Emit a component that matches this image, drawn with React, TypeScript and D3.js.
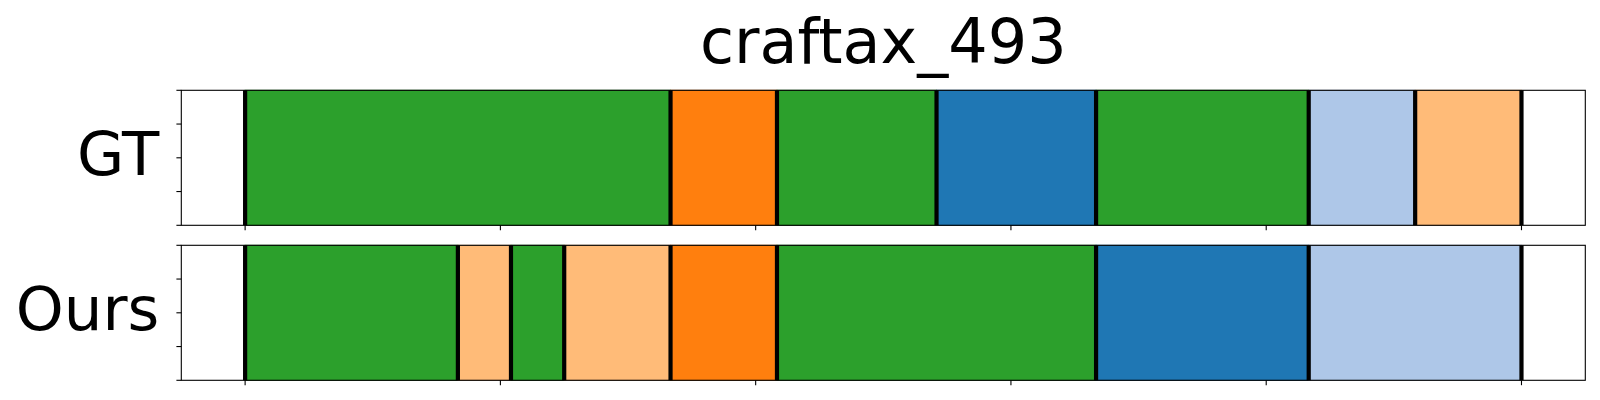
import React from "react";
import * as d3 from "d3";

const title = "craftax_493";
const rowLabels = ["GT", "Ours"];

// segment boundaries (normalized time, 0..100) and the colour class of each segment
const gtBounds = [0, 33.33, 41.67, 54.17, 66.67, 83.33, 91.67, 100];
const gtClasses = ["green", "orange", "green", "blue", "green", "lightblue", "lightorange"];

const oursBounds = [0, 16.67, 20.83, 25, 33.33, 41.67, 66.67, 83.33, 100];
const oursClasses = ["green", "lightorange", "green", "lightorange", "orange", "green", "blue", "lightblue"];

const xTicks = [0, 20, 40, 60, 80, 100];
const yTicks = [0, 0.25, 0.5, 0.75, 1];

const palette: Record<string, string> = {
  green: "#2ca02c",
  orange: "#ff7f0e",
  blue: "#1f77b4",
  lightblue: "#aec7e8",
  lightorange: "#ffbb78",
};

const W = 1600;
const H = 400;
const axLeft = 181.3;
const axRight = 1585.3;
const panels = [
  { top: 90.3, bottom: 225.3, bounds: gtBounds, classes: gtClasses, label: rowLabels[0] },
  { top: 245.3, bottom: 380.3, bounds: oursBounds, classes: oursClasses, label: rowLabels[1] },
];

export default function App() {
  const x = d3.scaleLinear().domain([-5, 105]).range([axLeft, axRight]);
  const font = "DejaVu Sans, sans-serif";
  return (
    <svg
      width={W}
      height={H}
      style={{ position: "absolute", left: 0, top: 0, background: "#fff" }}
      fontFamily={font}
    >
      <text x={(axLeft + axRight) / 2} y={62.7} textAnchor="middle" fontSize={62} fill="#000">
        {title}
      </text>
      {panels.map((p, pi) => {
        const y = d3.scaleLinear().domain([0, 1]).range([p.bottom, p.top]);
        const segs = p.classes.map((c, i) => ({ c, x0: p.bounds[i], x1: p.bounds[i + 1] }));
        return (
          <g key={pi}>
            {segs.map((s, i) => (
              <rect
                key={i}
                x={x(s.x0)}
                y={p.top}
                width={x(s.x1) - x(s.x0)}
                height={p.bottom - p.top}
                fill={palette[s.c]}
                stroke={d3.color(palette[s.c])!.darker(0.4).toString()}
                strokeWidth={1}
              />
            ))}
            {p.bounds.map((b, i) => (
              <line key={i} x1={x(b)} x2={x(b)} y1={p.top} y2={p.bottom} stroke="#000" strokeWidth={4.2} />
            ))}
            <rect
              x={axLeft}
              y={p.top}
              width={axRight - axLeft}
              height={p.bottom - p.top}
              fill="none"
              stroke="#000"
              strokeWidth={1.1}
            />
            {yTicks.map((t, i) => (
              <line key={i} x1={axLeft - 4.9} x2={axLeft} y1={y(t)} y2={y(t)} stroke="#000" strokeWidth={1.1} />
            ))}
            {xTicks.map((t, i) => (
              <line key={i} x1={x(t)} x2={x(t)} y1={p.bottom} y2={p.bottom + 4.9} stroke="#000" strokeWidth={1.1} />
            ))}
            <text
              x={axLeft - 22}
              y={y(0.5) + 16.8}
              textAnchor="end"
              fontSize={61}
              fill="#000"
            >
              {p.label}
            </text>
          </g>
        );
      })}
    </svg>
  );
}
